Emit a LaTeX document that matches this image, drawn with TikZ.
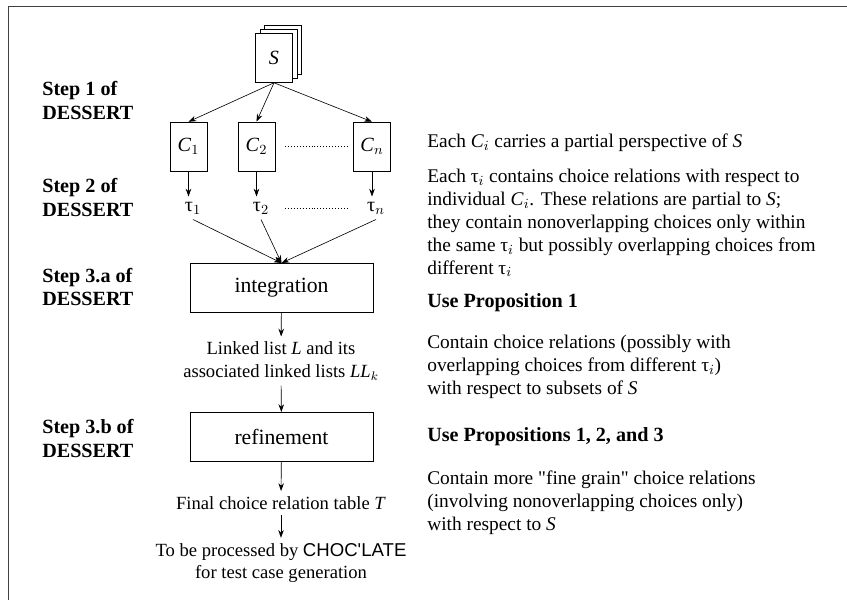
\documentclass[tikz,border=0pt]{standalone}
\usepackage{fontspec}
\setmainfont{Liberation Serif}[Ligatures=TeXOff]
\newfontfamily\chocfont{Liberation Sans}
\usetikzlibrary{positioning,arrows.meta}

\begin{document}
\begin{tikzpicture}[x=0.2268cm,y=-0.2268cm,>={Stealth[length=5pt,width=3.6pt]},
  every node/.style={font=\fontsize{12}{14.5}\selectfont},
  page/.style={draw,fill=white,minimum width=0.84cm,minimum height=1.11cm,inner sep=0pt,font=\fontsize{13}{15}\selectfont},
  stage/.style={draw,minimum width=4.15cm,minimum height=1.12cm,font=\fontsize{14}{16}\selectfont},
  steplbl/.style={anchor=west,align=left,inner sep=0pt,font=\fontsize{13}{15}\selectfont\bfseries},
  note/.style={anchor=west,align=left,inner sep=0pt,font=\fontsize{12.5}{14.8}\selectfont},
  usenote/.style={anchor=west,inner sep=0pt,font=\fontsize{13}{15}\selectfont\bfseries},
  gap/.style={dash pattern=on 0.6pt off 1.3pt,shorten <=2.2mm,shorten >=1.4mm}]
  \useasboundingbox (0,0) rectangle (84.7,60);
  \draw[line width=0.9pt,black!75] (84.7,0.65) -- (0.85,0.65) -- (0.85,60);

  % the specification, as a stack of pages
  \node[page] (s3) at (28.25,5.0) {};
  \node[page] (s2) at (27.85,5.4) {};
  \node[page] (s) at (27.4,5.8) {\textit{S}};

  \node[page] (c1) at (18.85,14.65) {\textit{C}$_1$};
  \node[page] (c2) at (25.65,14.65) {\textit{C}$_2$};
  \node[page] (cn) at (37.2,14.65) {\textit{C}$_n$};
  \draw[->] (s.south) -- (c1.north);
  \draw[->] (s.south) -- (c2.north);
  \draw[->] (s.south) -- (cn.north);

  \node[font=\fontsize{13}{15}\selectfont] (t1) at (19.3,20.8) {τ$_1$};
  \node[font=\fontsize{13}{15}\selectfont] (t2) at (26.1,20.8) {τ$_2$};
  \node[font=\fontsize{13}{15}\selectfont] (tn) at (37.6,20.8) {τ$_n$};
  \draw[->] (c1.south) -- (c1.south |- t1.north);
  \draw[->] (c2.south) -- (c2.south |- t2.north);
  \draw[->] (cn.south) -- (cn.south |- tn.north);
  \draw[gap] (c2.east) -- (cn.west);
  \draw[gap] (c2.east |- t2) -- (cn.west |- tn);

  \node[stage] (integ) at (28.15,28.8) {integration};
  \draw[->] (t1.south) -- (integ.north);
  \draw[->] (t2.south) -- (integ.north);
  \draw[->] (tn.south) -- (integ.north);

  \node[align=center] (llist) at (28.1,36.1) {Linked list \textit{L} and its\\associated linked lists \textit{LL}$_k$};
  \node[stage] (refine) at (28.15,43.7) {refinement};
  \node (final) at (28.1,50.3) {Final choice relation table \textit{T}};
  \node[align=center] (proc) at (28.1,56.3) {To be processed by {\chocfont CHOC'LATE}\\for test case generation};
  \draw[->] (integ) -- (llist);
  \draw[->] (llist) -- (refine);
  \draw[->] (refine) -- (final);
  \draw[->] (final) -- (proc);

  % steps of DESSERT
  \node[steplbl] (st1) at (4.2,10.05) {Step 1 of\\DESSERT};
  \node[steplbl] (st2) at (4.2,19.75) {Step 2 of\\DESSERT};
  \node[steplbl] (st3a) at (4.2,28.7) {Step 3.a of\\DESSERT};
  \node[steplbl] (st3b) at (4.2,43.85) {Step 3.b of\\DESSERT};

  % notes on the right
  \node[note] (n1) at (42.7,14.3) {Each \textit{C}$_i$ carries a partial perspective of \textit{S}};
  \node[note] (n2) at (42.7,22.3) {Each τ$_i$ contains choice relations with respect to\\individual \textit{C}$_i$. These relations are partial to \textit{S};\\they contain nonoverlapping choices only within\\the same τ$_i$ but possibly overlapping choices from\\different τ$_i$};
  \node[usenote] (n3) at (42.7,30.3) {Use Proposition 1};
  \node[note] (n4) at (42.7,36.7) {Contain choice relations (possibly with\\overlapping choices from different τ$_i$)\\with respect to subsets of \textit{S}};
  \node[usenote] (n5) at (42.7,43.7) {Use Propositions 1, 2, and 3};
  \node[note] (n6) at (42.7,50.3) {Contain more "fine grain" choice relations\\(involving nonoverlapping choices only)\\with respect to \textit{S}};
\end{tikzpicture}
\end{document}
